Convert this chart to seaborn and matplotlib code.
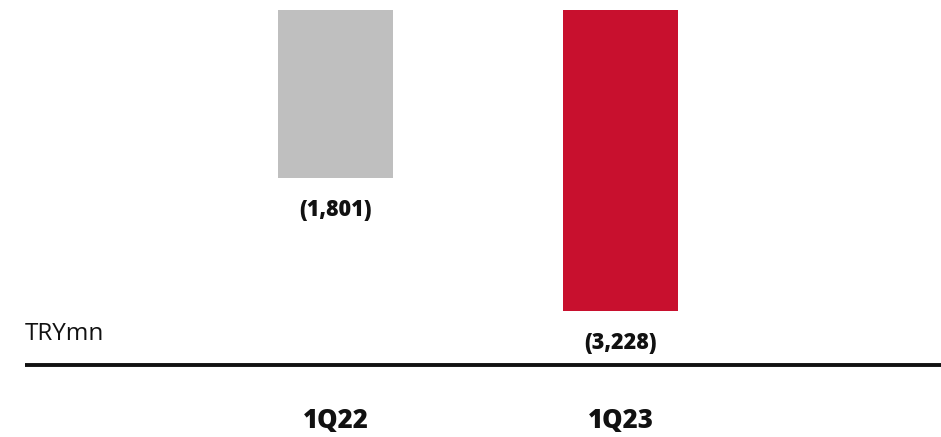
import matplotlib
matplotlib.use("Agg")
import matplotlib.pyplot as plt
import matplotlib.transforms as mtransforms
import seaborn as sns
import pandas as pd

categories = ["1Q22", "1Q23"]
values = [-1801, -3228]
value_labels = ["(1,801)", "(3,228)"]
colors = ["#BFBFBF", "#C8102E"]
unit_label = "TRYmn"

sns.set_theme(style="white")
plt.rcParams["font.family"] = ["Open Sans", "DejaVu Sans"]

df = pd.DataFrame({"cat": categories, "val": values})

fig = plt.figure(figsize=(9.41, 4.37), dpi=100)
ax = fig.add_axes([0, 0, 1, 1])
sns.barplot(data=df, x="cat", y="val", hue="cat", palette=colors,
            width=0.4035, legend=False, ax=ax, saturation=1, linewidth=0)

# pixel mapping: x pixel = 335.5 + 285*x ; y zero at 10px from top, 10.724 units/px
ax.set_xlim(-335.5 / 285, (941 - 335.5) / 285)
ax.set_ylim(-427 * 10.724, 10 * 10.724)
ax.axis("off")

for i, (v, lab) in enumerate(zip(values, value_labels)):
    ax.text(i, v - 32 * 10.724, lab, ha="center", va="center",
            fontsize=15.5, fontweight="heavy", color="#111111")

trans = mtransforms.blended_transform_factory(ax.transData, ax.transAxes)
for i, c in enumerate(categories):
    ax.text(i, 1 - 421 / 437, c, transform=trans, ha="center", va="center",
            fontsize=18.5, fontweight="heavy", color="#111111")

ax.text(25 / 941, 1 - 334 / 437, unit_label, transform=ax.transAxes,
        ha="left", va="center", fontsize=17.5, color="#111111")

ax.axhline(-355 * 10.724, xmin=25 / 941, xmax=1, color="#111111", lw=2.8,
           solid_capstyle="butt")

fig.savefig("out.png", dpi=100)
